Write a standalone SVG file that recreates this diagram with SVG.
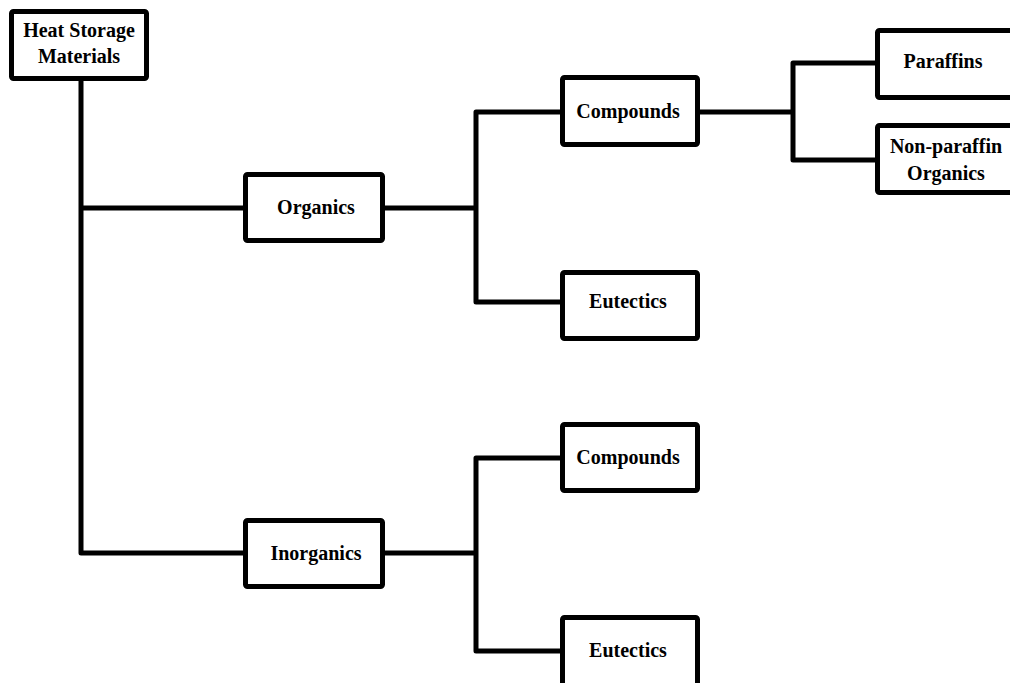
<svg xmlns="http://www.w3.org/2000/svg" width="1010" height="683" viewBox="0 0 1010 683">
<style>
.box{fill:#fff;stroke:#000;stroke-width:5;stroke-linejoin:round}
.lbl{font-family:"Liberation Serif","Times New Roman",serif;font-weight:bold;font-size:20px;fill:#000;text-anchor:middle}
.con{fill:none;stroke:#000;stroke-width:5;stroke-linejoin:round}
</style>
<rect width="1010" height="683" fill="#fff"/>
<g id="connectors">
<path class="con" d="M81 80 V553 H246"/>
<path class="con" d="M81 208 H246"/>
<path class="con" d="M383 208 H476"/>
<path class="con" d="M562 112 H476 V302 H562"/>
<path class="con" d="M698 112 H793"/>
<path class="con" d="M877 63 H793 V160 H877"/>
<path class="con" d="M383 553 H476"/>
<path class="con" d="M562 458 H476 V651 H562"/>
</g>
<g id="heat-storage">
<rect class="box" x="11.5" y="11.5" width="135" height="67" rx="2"/>
<text class="lbl" x="79" y="37">Heat Storage</text>
<text class="lbl" x="79" y="63">Materials</text>
</g>
<g id="organics">
<rect class="box" x="245.5" y="174.5" width="137" height="66" rx="2"/>
<text class="lbl" x="316" y="214">Organics</text>
</g>
<g id="org-compounds">
<rect class="box" x="562.5" y="77.5" width="135" height="67" rx="2"/>
<text class="lbl" x="628" y="118">Compounds</text>
</g>
<g id="org-eutectics">
<rect class="box" x="562.5" y="272.5" width="135" height="66" rx="2"/>
<text class="lbl" x="628" y="308">Eutectics</text>
</g>
<g id="paraffins">
<rect class="box" x="877.5" y="30.5" width="140" height="67" rx="2"/>
<text class="lbl" x="943" y="68">Paraffins</text>
</g>
<g id="non-paraffin">
<rect class="box" x="877.5" y="125.5" width="140" height="67" rx="2"/>
<text class="lbl" x="946" y="153">Non-paraffin</text>
<text class="lbl" x="946" y="180">Organics</text>
</g>
<g id="inorganics">
<rect class="box" x="245.5" y="520.5" width="137" height="66" rx="2"/>
<text class="lbl" x="316" y="560">Inorganics</text>
</g>
<g id="inorg-compounds">
<rect class="box" x="562.5" y="424.5" width="135" height="66" rx="2"/>
<text class="lbl" x="628" y="464">Compounds</text>
</g>
<g id="inorg-eutectics">
<rect class="box" x="562.5" y="617.5" width="135" height="80" rx="2"/>
<text class="lbl" x="628" y="657">Eutectics</text>
</g>
</svg>
